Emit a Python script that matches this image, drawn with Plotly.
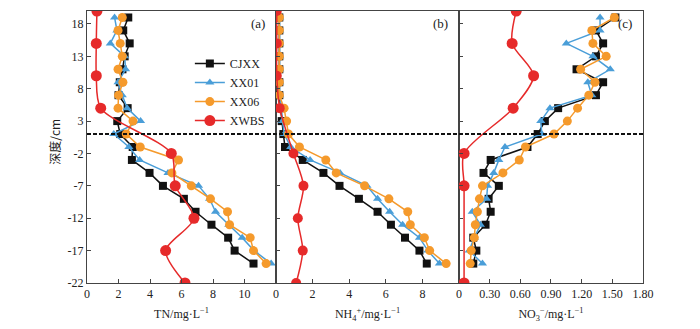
import plotly.graph_objects as go

depth = [19, 17, 15, 13, 11, 9, 7, 5, 3, 1, -1, -3, -5, -7, -9, -11, -13, -15, -17, -19]
depth_w = [20, 15, 10, 5, -2, -7, -12, -17, -22]

cjxx_tn = [2.62, 2.30, 2.71, 2.39, 2.25, 2.08, 2.00, 2.58, 1.92, 2.11, 2.90, 2.85, 3.97, 4.82, 6.15, 6.89, 7.90, 8.96, 9.37, 10.57]
xx01_tn = [1.75, 1.90, 1.48, 2.39, 2.45, 1.97, 2.24, 2.55, 3.40, 1.70, 2.66, 3.34, 5.14, 7.08, 7.78, 8.16, 9.00, 9.85, 10.60, 11.69]
xx06_tn = [2.24, 1.97, 2.11, 2.24, 1.97, 2.28, 2.00, 1.97, 2.92, 2.49, 3.38, 5.81, 5.39, 6.62, 7.84, 8.92, 9.05, 10.36, 10.57, 11.37]
xwbs_tn = [0.63, 0.59, 0.59, 0.87, 5.35, 5.60, 6.79, 4.99, 6.22]

cjxx_nh = [0.18, 0.18, 0.18, 0.18, 0.18, 0.18, 0.18, 0.25, 0.31, 0.40, 0.49, 1.46, 2.59, 3.47, 4.53, 5.55, 6.28, 7.05, 7.84, 8.24]
xx01_nh = [0.20, 0.20, 0.20, 0.20, 0.20, 0.20, 0.20, 0.30, 0.35, 0.45, 0.80, 1.86, 3.50, 4.97, 5.55, 6.21, 6.92, 7.84, 8.30, 8.93]
xx06_nh = [0.18, 0.18, 0.18, 0.18, 0.18, 0.18, 0.18, 0.44, 0.58, 0.68, 1.28, 2.72, 3.29, 4.84, 6.17, 7.20, 7.34, 8.11, 8.40, 9.30]
xwbs_nh = [0.04, 0.04, 0.04, 0.20, 0.95, 1.50, 1.19, 1.46, 1.10]

cjxx_no = [1.53, 1.34, 1.41, 1.34, 1.15, 1.41, 1.34, 0.97, 0.84, 0.77, 0.67, 0.31, 0.24, 0.39, 0.29, 0.31, 0.26, 0.14, 0.17, 0.14]
xx01_no = [1.38, 1.38, 1.05, 1.31, 1.48, 1.26, 1.30, 0.89, 0.80, 0.81, 0.45, 0.39, 0.34, 0.28, 0.27, 0.13, 0.21, 0.15, 0.10, 0.23]
xx06_no = [1.52, 1.30, 1.31, 1.44, 1.19, 1.33, 1.27, 1.16, 1.06, 0.93, 0.65, 0.59, 0.43, 0.23, 0.20, 0.18, 0.16, 0.15, 0.12, 0.11]
xwbs_no = [0.56, 0.52, 0.73, 0.53, 0.05, 0.05, None, None, 0.05]

y_ticks = [18, 13, 8, 3, -2, -7, -12, -17, -22]
tn_ticks = [0, 2, 4, 6, 8, 10]
nh_ticks = [0, 2, 4, 6, 8]
no_ticks = [0, 0.30, 0.60, 0.90, 1.20, 1.50, 1.80]
no_ticktext = ["0", "0.30", "0.60", "0.90", "1.20", "1.50", "1.80"]

names = ["CJXX", "XX01", "XX06", "XWBS"]
colors = {"CJXX": "#111111", "XX01": "#4a9ed8", "XX06": "#f59a2c", "XWBS": "#e62a2a"}
symbols = {"CJXX": "square", "XX01": "triangle-up", "XX06": "circle", "XWBS": "circle"}
sizes = {"CJXX": 8, "XX01": 8, "XX06": 9, "XWBS": 11}

panels = [
    ("x", "y", [cjxx_tn, xx01_tn, xx06_tn, xwbs_tn]),
    ("x2", "y2", [cjxx_nh, xx01_nh, xx06_nh, xwbs_nh]),
    ("x3", "y3", [cjxx_no, xx01_no, xx06_no, xwbs_no]),
]

fig = go.Figure()
for pi, (xa, ya, series) in enumerate(panels):
    for name, vals in zip(names, series):
        isw = name == "XWBS"
        msize = sizes[name] if not (isw and pi == 1) else 10
        fig.add_trace(go.Scatter(
            x=vals, y=depth_w if isw else depth, xaxis=xa, yaxis=ya,
            mode="lines+markers", name=name, showlegend=(pi == 0),
            connectgaps=True,
            line=dict(color=colors[name], width=1.5, shape="spline" if isw else "linear", smoothing=0.8),
            marker=dict(symbol=symbols[name], size=msize, color=colors[name]),
        ))

font_family = "Liberation Serif"
axcol = "#444444"
common_x = dict(showline=True, linecolor=axcol, linewidth=1, mirror=True, ticks="inside",
                ticklen=4, tickcolor=axcol, showgrid=False, zeroline=False,
                tickfont=dict(family=font_family, size=12, color="#222"),
                title_font=dict(family=font_family, size=12, color="#222"), title_standoff=9)
common_y = dict(range=[-22, 20], showline=True, linecolor=axcol, linewidth=1, mirror=True,
                ticks="inside", ticklen=4, tickcolor=axcol, showgrid=False, zeroline=False,
                tickvals=y_ticks, ticktext=[str(v) for v in y_ticks],
                tickfont=dict(family=font_family, size=12, color="#222"))

d1, d2 = 0.34, 0.669
fig.update_layout(
    width=700, height=329, margin=dict(l=87, r=57, t=10, b=36),
    plot_bgcolor="white", paper_bgcolor="white",
    xaxis=dict(domain=[0, d1], range=[0, 12], tickvals=tn_ticks, anchor="y",
               title_text="TN/mg·L<sup>−1</sup>", **common_x),
    xaxis2=dict(domain=[d1, d2], range=[0, 10], tickvals=nh_ticks, anchor="y2",
                title_text="NH<sub>4</sub><sup>+</sup>/mg·L<sup>−1</sup>", **common_x),
    xaxis3=dict(domain=[d2, 1], range=[0, 1.8], tickvals=no_ticks, ticktext=no_ticktext, anchor="y3",
                title_text="NO<sub>3</sub><sup>−</sup>/mg·L<sup>−1</sup>", **common_x),
    yaxis=dict(anchor="x", **common_y),
    yaxis2=dict(anchor="x2", showticklabels=False, **common_y),
    yaxis3=dict(anchor="x3", showticklabels=False, **common_y),
    legend=dict(x=0.185, y=0.86, xanchor="left", yanchor="top", bgcolor="rgba(0,0,0,0)",
                font=dict(family=font_family, size=12, color="#222"), tracegroupgap=0,
                itemwidth=30),
    shapes=[dict(type="line", xref="paper", yref="y", x0=0, x1=1, y0=1, y1=1,
                 line=dict(color="#111", width=2, dash="4px,2px"))],
    annotations=[
        dict(text="深度/cm", xref="paper", yref="paper", x=-0.059, y=0.52, showarrow=False,
             textangle=-90, xanchor="center", yanchor="middle",
             font=dict(family="Noto Sans CJK SC", size=12, color="#222")),
        dict(text="(a)", xref="x domain", yref="y domain", x=0.95, y=0.955, showarrow=False,
             xanchor="right", yanchor="middle", font=dict(family=font_family, size=13, color="#222")),
        dict(text="(b)", xref="x2 domain", yref="y2 domain", x=0.95, y=0.955, showarrow=False,
             xanchor="right", yanchor="middle", font=dict(family=font_family, size=13, color="#222")),
        dict(text="(c)", xref="x3 domain", yref="y3 domain", x=0.95, y=0.955, showarrow=False,
             xanchor="right", yanchor="middle", font=dict(family=font_family, size=13, color="#222")),
    ],
)

fig.write_html("out.html")
